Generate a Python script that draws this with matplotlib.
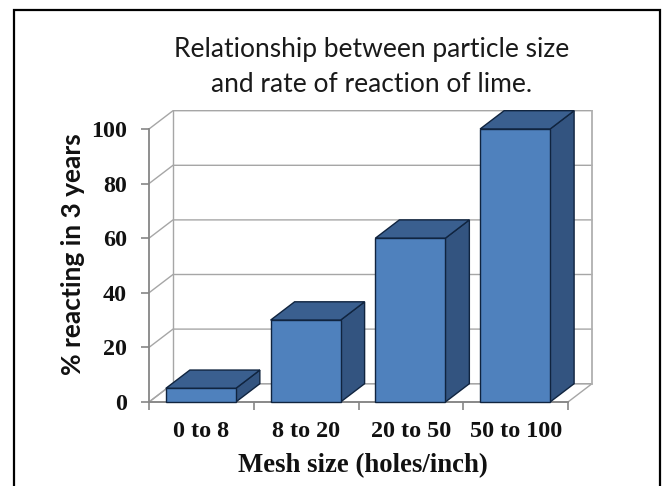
import matplotlib
matplotlib.use('Agg')
import matplotlib.pyplot as plt
from matplotlib.patches import Polygon, Rectangle

categories = ['0 to 8', '8 to 20', '20 to 50', '50 to 100']
values = [5, 30, 60, 100]
y_ticks = [0, 20, 40, 60, 80, 100]
title = 'Relationship between particle size\nand rate of reaction of lime.'

W, H = 665, 486
FRONT = '#4f81bd'
TOP = '#3a5f8f'
SIDE = '#335480'
EDGE = '#10243f'
GRID = '#a6a6a6'
AXIS = '#868686'

fig = plt.figure(figsize=(W / 100, H / 100), dpi=100)
# front plane of the 3d box, pixels from the top left
x0, x1, y0, y1 = 149, 568, 402, 129
ax = fig.add_axes([x0 / W, 1 - y0 / H, (x1 - x0) / W, (y0 - y1) / H])
ax.set_xlim(0, len(categories))
ax.set_ylim(0, 100)
ax.patch.set_visible(False)
for s in ['top', 'right']:
    ax.spines[s].set_visible(False)
for s in ['left', 'bottom']:
    ax.spines[s].set_color(AXIS)
    ax.spines[s].set_linewidth(1.3)

# depth of the box in data units
dx = 24 / ((x1 - x0) / len(categories))
dy = 18.3 / ((y0 - y1) / 100)

# walls
ax.add_patch(Polygon([(0, 0), (dx, dy), (len(categories) + dx, dy), (len(categories), 0)],
                     closed=True, fc='white', ec=GRID, lw=1, clip_on=False, zorder=1))
for t in y_ticks:
    ax.plot([0, dx, len(categories) + dx], [t, t + dy, t + dy], color=GRID, lw=1,
            clip_on=False, zorder=1.5)
ax.plot([dx, dx], [dy, 100 + dy], color=GRID, lw=1, clip_on=False, zorder=1.5)
ax.plot([len(categories) + dx] * 2, [dy, 100 + dy], color='#b0b0b0', lw=1.3, clip_on=False, zorder=1.5)

# bars
bw = 70 / ((x1 - x0) / len(categories))
for i, v in enumerate(values):
    left = i + (1 - bw) / 2 - 0.005
    right = left + bw
    z = 3 + i
    ax.add_patch(Polygon([(right, 0), (right + dx, dy), (right + dx, v + dy), (right, v)],
                         closed=True, fc=SIDE, ec=EDGE, lw=1, clip_on=False, zorder=z))
    ax.add_patch(Polygon([(left, v), (left + dx, v + dy), (right + dx, v + dy), (right, v)],
                         closed=True, fc=TOP, ec=EDGE, lw=1, clip_on=False, zorder=z))
    ax.add_patch(Rectangle((left, 0), bw, v, fc=FRONT, ec=EDGE, lw=1, clip_on=False, zorder=z))

serif = ['Liberation Serif', 'DejaVu Serif']
ax.set_yticks(y_ticks)
ax.set_xticks(range(len(categories) + 1))
ax.set_xticklabels([])
ax.set_xticks([i + 0.5 for i in range(len(categories))], minor=True)
ax.set_xticklabels(categories, minor=True, family=serif, fontweight='bold', fontsize=17.4, color='#111111')
ax.tick_params(axis='x', which='minor', length=0, pad=14)
ax.tick_params(axis='x', which='major', length=6, width=1.2, color=AXIS)
ax.tick_params(axis='y', length=6, width=1.2, color=AXIS, pad=10)
for lab in ax.get_yticklabels():
    lab.set_family(serif)
    lab.set_fontweight('bold')
    lab.set_fontsize(17.3)
    lab.set_color('#111111')

fig.text(362.5 / W, 1 - 466 / H, 'Mesh size (holes/inch)', family=serif, fontweight='bold',
         fontsize=19.3, color='#111111', ha='center', va='center')
fig.text(73 / W, 1 - 254 / H, '% reacting in 3 years', family=['Lato', 'DejaVu Sans'], fontweight='bold',
         fontsize=19, color='#111111', rotation=90, ha='center', va='center')
fig.text(372 / W, 1 - 67 / H, title, family=['Lato', 'DejaVu Sans'], fontsize=19, color='#1a1a1a',
         ha='center', va='center', linespacing=1.55)

# slide border
fig.add_artist(Rectangle((14 / W, -0.02), (660 - 14) / W, 1 - 10 / H + 0.02, transform=fig.transFigure,
                         fc='none', ec='black', lw=1.6))

fig.savefig('out.png', dpi=100)
